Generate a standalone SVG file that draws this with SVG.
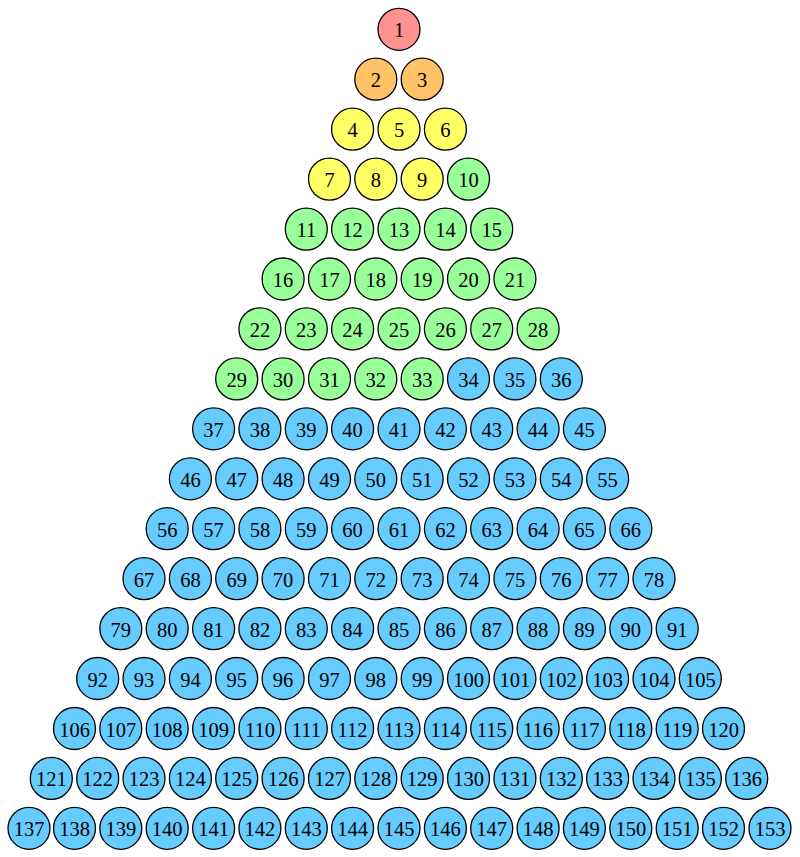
<svg xmlns="http://www.w3.org/2000/svg" width="800" height="857" viewBox="0 0 800 857">
<style>
circle{stroke:#000;stroke-width:1.3}
text{font-family:"Liberation Serif","Times New Roman",serif;font-size:20.5px;text-anchor:middle;fill:#000}
.r circle{fill:#ff9191}
.o circle{fill:#ffc266}
.y circle{fill:#ffff66}
.g circle{fill:#99ff99}
.b circle{fill:#66ccff}
</style>
<rect width="800" height="857" fill="#fff"/>
<g id="connectors"/>
<g id="nodes">
<g id="n1" class="r"><circle cx="399" cy="29.3" r="21"/><text x="399" y="37.3">1</text></g>
<g id="n2" class="o"><circle cx="375.8" cy="79.2" r="21"/><text x="375.8" y="87.2">2</text></g>
<g id="n3" class="o"><circle cx="422.2" cy="79.2" r="21"/><text x="422.2" y="87.2">3</text></g>
<g id="n4" class="y"><circle cx="352.6" cy="129.2" r="21"/><text x="352.6" y="137.2">4</text></g>
<g id="n5" class="y"><circle cx="399" cy="129.2" r="21"/><text x="399" y="137.2">5</text></g>
<g id="n6" class="y"><circle cx="445.4" cy="129.2" r="21"/><text x="445.4" y="137.2">6</text></g>
<g id="n7" class="y"><circle cx="329.5" cy="179.1" r="21"/><text x="329.5" y="187.1">7</text></g>
<g id="n8" class="y"><circle cx="375.8" cy="179.1" r="21"/><text x="375.8" y="187.1">8</text></g>
<g id="n9" class="y"><circle cx="422.2" cy="179.1" r="21"/><text x="422.2" y="187.1">9</text></g>
<g id="n10" class="g"><circle cx="468.5" cy="179.1" r="21"/><text x="468.5" y="187.1">10</text></g>
<g id="n11" class="g"><circle cx="306.3" cy="229.1" r="21"/><text x="306.3" y="237.1">11</text></g>
<g id="n12" class="g"><circle cx="352.6" cy="229.1" r="21"/><text x="352.6" y="237.1">12</text></g>
<g id="n13" class="g"><circle cx="399" cy="229.1" r="21"/><text x="399" y="237.1">13</text></g>
<g id="n14" class="g"><circle cx="445.4" cy="229.1" r="21"/><text x="445.4" y="237.1">14</text></g>
<g id="n15" class="g"><circle cx="491.7" cy="229.1" r="21"/><text x="491.7" y="237.1">15</text></g>
<g id="n16" class="g"><circle cx="283.1" cy="279" r="21"/><text x="283.1" y="287">16</text></g>
<g id="n17" class="g"><circle cx="329.5" cy="279" r="21"/><text x="329.5" y="287">17</text></g>
<g id="n18" class="g"><circle cx="375.8" cy="279" r="21"/><text x="375.8" y="287">18</text></g>
<g id="n19" class="g"><circle cx="422.2" cy="279" r="21"/><text x="422.2" y="287">19</text></g>
<g id="n20" class="g"><circle cx="468.5" cy="279" r="21"/><text x="468.5" y="287">20</text></g>
<g id="n21" class="g"><circle cx="514.9" cy="279" r="21"/><text x="514.9" y="287">21</text></g>
<g id="n22" class="g"><circle cx="259.9" cy="328.9" r="21"/><text x="259.9" y="336.9">22</text></g>
<g id="n23" class="g"><circle cx="306.3" cy="328.9" r="21"/><text x="306.3" y="336.9">23</text></g>
<g id="n24" class="g"><circle cx="352.6" cy="328.9" r="21"/><text x="352.6" y="336.9">24</text></g>
<g id="n25" class="g"><circle cx="399" cy="328.9" r="21"/><text x="399" y="336.9">25</text></g>
<g id="n26" class="g"><circle cx="445.4" cy="328.9" r="21"/><text x="445.4" y="336.9">26</text></g>
<g id="n27" class="g"><circle cx="491.7" cy="328.9" r="21"/><text x="491.7" y="336.9">27</text></g>
<g id="n28" class="g"><circle cx="538.1" cy="328.9" r="21"/><text x="538.1" y="336.9">28</text></g>
<g id="n29" class="g"><circle cx="236.7" cy="378.9" r="21"/><text x="236.7" y="386.9">29</text></g>
<g id="n30" class="g"><circle cx="283.1" cy="378.9" r="21"/><text x="283.1" y="386.9">30</text></g>
<g id="n31" class="g"><circle cx="329.5" cy="378.9" r="21"/><text x="329.5" y="386.9">31</text></g>
<g id="n32" class="g"><circle cx="375.8" cy="378.9" r="21"/><text x="375.8" y="386.9">32</text></g>
<g id="n33" class="g"><circle cx="422.2" cy="378.9" r="21"/><text x="422.2" y="386.9">33</text></g>
<g id="n34" class="b"><circle cx="468.5" cy="378.9" r="21"/><text x="468.5" y="386.9">34</text></g>
<g id="n35" class="b"><circle cx="514.9" cy="378.9" r="21"/><text x="514.9" y="386.9">35</text></g>
<g id="n36" class="b"><circle cx="561.3" cy="378.9" r="21"/><text x="561.3" y="386.9">36</text></g>
<g id="n37" class="b"><circle cx="213.6" cy="428.8" r="21"/><text x="213.6" y="436.8">37</text></g>
<g id="n38" class="b"><circle cx="259.9" cy="428.8" r="21"/><text x="259.9" y="436.8">38</text></g>
<g id="n39" class="b"><circle cx="306.3" cy="428.8" r="21"/><text x="306.3" y="436.8">39</text></g>
<g id="n40" class="b"><circle cx="352.6" cy="428.8" r="21"/><text x="352.6" y="436.8">40</text></g>
<g id="n41" class="b"><circle cx="399" cy="428.8" r="21"/><text x="399" y="436.8">41</text></g>
<g id="n42" class="b"><circle cx="445.4" cy="428.8" r="21"/><text x="445.4" y="436.8">42</text></g>
<g id="n43" class="b"><circle cx="491.7" cy="428.8" r="21"/><text x="491.7" y="436.8">43</text></g>
<g id="n44" class="b"><circle cx="538.1" cy="428.8" r="21"/><text x="538.1" y="436.8">44</text></g>
<g id="n45" class="b"><circle cx="584.4" cy="428.8" r="21"/><text x="584.4" y="436.8">45</text></g>
<g id="n46" class="b"><circle cx="190.4" cy="478.8" r="21"/><text x="190.4" y="486.8">46</text></g>
<g id="n47" class="b"><circle cx="236.7" cy="478.8" r="21"/><text x="236.7" y="486.8">47</text></g>
<g id="n48" class="b"><circle cx="283.1" cy="478.8" r="21"/><text x="283.1" y="486.8">48</text></g>
<g id="n49" class="b"><circle cx="329.5" cy="478.8" r="21"/><text x="329.5" y="486.8">49</text></g>
<g id="n50" class="b"><circle cx="375.8" cy="478.8" r="21"/><text x="375.8" y="486.8">50</text></g>
<g id="n51" class="b"><circle cx="422.2" cy="478.8" r="21"/><text x="422.2" y="486.8">51</text></g>
<g id="n52" class="b"><circle cx="468.5" cy="478.8" r="21"/><text x="468.5" y="486.8">52</text></g>
<g id="n53" class="b"><circle cx="514.9" cy="478.8" r="21"/><text x="514.9" y="486.8">53</text></g>
<g id="n54" class="b"><circle cx="561.3" cy="478.8" r="21"/><text x="561.3" y="486.8">54</text></g>
<g id="n55" class="b"><circle cx="607.6" cy="478.8" r="21"/><text x="607.6" y="486.8">55</text></g>
<g id="n56" class="b"><circle cx="167.2" cy="528.7" r="21"/><text x="167.2" y="536.7">56</text></g>
<g id="n57" class="b"><circle cx="213.6" cy="528.7" r="21"/><text x="213.6" y="536.7">57</text></g>
<g id="n58" class="b"><circle cx="259.9" cy="528.7" r="21"/><text x="259.9" y="536.7">58</text></g>
<g id="n59" class="b"><circle cx="306.3" cy="528.7" r="21"/><text x="306.3" y="536.7">59</text></g>
<g id="n60" class="b"><circle cx="352.6" cy="528.7" r="21"/><text x="352.6" y="536.7">60</text></g>
<g id="n61" class="b"><circle cx="399" cy="528.7" r="21"/><text x="399" y="536.7">61</text></g>
<g id="n62" class="b"><circle cx="445.4" cy="528.7" r="21"/><text x="445.4" y="536.7">62</text></g>
<g id="n63" class="b"><circle cx="491.7" cy="528.7" r="21"/><text x="491.7" y="536.7">63</text></g>
<g id="n64" class="b"><circle cx="538.1" cy="528.7" r="21"/><text x="538.1" y="536.7">64</text></g>
<g id="n65" class="b"><circle cx="584.4" cy="528.7" r="21"/><text x="584.4" y="536.7">65</text></g>
<g id="n66" class="b"><circle cx="630.8" cy="528.7" r="21"/><text x="630.8" y="536.7">66</text></g>
<g id="n67" class="b"><circle cx="144" cy="578.6" r="21"/><text x="144" y="586.6">67</text></g>
<g id="n68" class="b"><circle cx="190.4" cy="578.6" r="21"/><text x="190.4" y="586.6">68</text></g>
<g id="n69" class="b"><circle cx="236.7" cy="578.6" r="21"/><text x="236.7" y="586.6">69</text></g>
<g id="n70" class="b"><circle cx="283.1" cy="578.6" r="21"/><text x="283.1" y="586.6">70</text></g>
<g id="n71" class="b"><circle cx="329.5" cy="578.6" r="21"/><text x="329.5" y="586.6">71</text></g>
<g id="n72" class="b"><circle cx="375.8" cy="578.6" r="21"/><text x="375.8" y="586.6">72</text></g>
<g id="n73" class="b"><circle cx="422.2" cy="578.6" r="21"/><text x="422.2" y="586.6">73</text></g>
<g id="n74" class="b"><circle cx="468.5" cy="578.6" r="21"/><text x="468.5" y="586.6">74</text></g>
<g id="n75" class="b"><circle cx="514.9" cy="578.6" r="21"/><text x="514.9" y="586.6">75</text></g>
<g id="n76" class="b"><circle cx="561.3" cy="578.6" r="21"/><text x="561.3" y="586.6">76</text></g>
<g id="n77" class="b"><circle cx="607.6" cy="578.6" r="21"/><text x="607.6" y="586.6">77</text></g>
<g id="n78" class="b"><circle cx="654" cy="578.6" r="21"/><text x="654" y="586.6">78</text></g>
<g id="n79" class="b"><circle cx="120.8" cy="628.6" r="21"/><text x="120.8" y="636.6">79</text></g>
<g id="n80" class="b"><circle cx="167.2" cy="628.6" r="21"/><text x="167.2" y="636.6">80</text></g>
<g id="n81" class="b"><circle cx="213.6" cy="628.6" r="21"/><text x="213.6" y="636.6">81</text></g>
<g id="n82" class="b"><circle cx="259.9" cy="628.6" r="21"/><text x="259.9" y="636.6">82</text></g>
<g id="n83" class="b"><circle cx="306.3" cy="628.6" r="21"/><text x="306.3" y="636.6">83</text></g>
<g id="n84" class="b"><circle cx="352.6" cy="628.6" r="21"/><text x="352.6" y="636.6">84</text></g>
<g id="n85" class="b"><circle cx="399" cy="628.6" r="21"/><text x="399" y="636.6">85</text></g>
<g id="n86" class="b"><circle cx="445.4" cy="628.6" r="21"/><text x="445.4" y="636.6">86</text></g>
<g id="n87" class="b"><circle cx="491.7" cy="628.6" r="21"/><text x="491.7" y="636.6">87</text></g>
<g id="n88" class="b"><circle cx="538.1" cy="628.6" r="21"/><text x="538.1" y="636.6">88</text></g>
<g id="n89" class="b"><circle cx="584.4" cy="628.6" r="21"/><text x="584.4" y="636.6">89</text></g>
<g id="n90" class="b"><circle cx="630.8" cy="628.6" r="21"/><text x="630.8" y="636.6">90</text></g>
<g id="n91" class="b"><circle cx="677.2" cy="628.6" r="21"/><text x="677.2" y="636.6">91</text></g>
<g id="n92" class="b"><circle cx="97.7" cy="678.5" r="21"/><text x="97.7" y="686.5">92</text></g>
<g id="n93" class="b"><circle cx="144" cy="678.5" r="21"/><text x="144" y="686.5">93</text></g>
<g id="n94" class="b"><circle cx="190.4" cy="678.5" r="21"/><text x="190.4" y="686.5">94</text></g>
<g id="n95" class="b"><circle cx="236.7" cy="678.5" r="21"/><text x="236.7" y="686.5">95</text></g>
<g id="n96" class="b"><circle cx="283.1" cy="678.5" r="21"/><text x="283.1" y="686.5">96</text></g>
<g id="n97" class="b"><circle cx="329.5" cy="678.5" r="21"/><text x="329.5" y="686.5">97</text></g>
<g id="n98" class="b"><circle cx="375.8" cy="678.5" r="21"/><text x="375.8" y="686.5">98</text></g>
<g id="n99" class="b"><circle cx="422.2" cy="678.5" r="21"/><text x="422.2" y="686.5">99</text></g>
<g id="n100" class="b"><circle cx="468.5" cy="678.5" r="21"/><text x="468.5" y="686.5">100</text></g>
<g id="n101" class="b"><circle cx="514.9" cy="678.5" r="21"/><text x="514.9" y="686.5">101</text></g>
<g id="n102" class="b"><circle cx="561.3" cy="678.5" r="21"/><text x="561.3" y="686.5">102</text></g>
<g id="n103" class="b"><circle cx="607.6" cy="678.5" r="21"/><text x="607.6" y="686.5">103</text></g>
<g id="n104" class="b"><circle cx="654" cy="678.5" r="21"/><text x="654" y="686.5">104</text></g>
<g id="n105" class="b"><circle cx="700.3" cy="678.5" r="21"/><text x="700.3" y="686.5">105</text></g>
<g id="n106" class="b"><circle cx="74.5" cy="728.5" r="21"/><text x="74.5" y="736.5">106</text></g>
<g id="n107" class="b"><circle cx="120.8" cy="728.5" r="21"/><text x="120.8" y="736.5">107</text></g>
<g id="n108" class="b"><circle cx="167.2" cy="728.5" r="21"/><text x="167.2" y="736.5">108</text></g>
<g id="n109" class="b"><circle cx="213.6" cy="728.5" r="21"/><text x="213.6" y="736.5">109</text></g>
<g id="n110" class="b"><circle cx="259.9" cy="728.5" r="21"/><text x="259.9" y="736.5">110</text></g>
<g id="n111" class="b"><circle cx="306.3" cy="728.5" r="21"/><text x="306.3" y="736.5">111</text></g>
<g id="n112" class="b"><circle cx="352.6" cy="728.5" r="21"/><text x="352.6" y="736.5">112</text></g>
<g id="n113" class="b"><circle cx="399" cy="728.5" r="21"/><text x="399" y="736.5">113</text></g>
<g id="n114" class="b"><circle cx="445.4" cy="728.5" r="21"/><text x="445.4" y="736.5">114</text></g>
<g id="n115" class="b"><circle cx="491.7" cy="728.5" r="21"/><text x="491.7" y="736.5">115</text></g>
<g id="n116" class="b"><circle cx="538.1" cy="728.5" r="21"/><text x="538.1" y="736.5">116</text></g>
<g id="n117" class="b"><circle cx="584.4" cy="728.5" r="21"/><text x="584.4" y="736.5">117</text></g>
<g id="n118" class="b"><circle cx="630.8" cy="728.5" r="21"/><text x="630.8" y="736.5">118</text></g>
<g id="n119" class="b"><circle cx="677.2" cy="728.5" r="21"/><text x="677.2" y="736.5">119</text></g>
<g id="n120" class="b"><circle cx="723.5" cy="728.5" r="21"/><text x="723.5" y="736.5">120</text></g>
<g id="n121" class="b"><circle cx="51.3" cy="778.4" r="21"/><text x="51.3" y="786.4">121</text></g>
<g id="n122" class="b"><circle cx="97.7" cy="778.4" r="21"/><text x="97.7" y="786.4">122</text></g>
<g id="n123" class="b"><circle cx="144" cy="778.4" r="21"/><text x="144" y="786.4">123</text></g>
<g id="n124" class="b"><circle cx="190.4" cy="778.4" r="21"/><text x="190.4" y="786.4">124</text></g>
<g id="n125" class="b"><circle cx="236.7" cy="778.4" r="21"/><text x="236.7" y="786.4">125</text></g>
<g id="n126" class="b"><circle cx="283.1" cy="778.4" r="21"/><text x="283.1" y="786.4">126</text></g>
<g id="n127" class="b"><circle cx="329.5" cy="778.4" r="21"/><text x="329.5" y="786.4">127</text></g>
<g id="n128" class="b"><circle cx="375.8" cy="778.4" r="21"/><text x="375.8" y="786.4">128</text></g>
<g id="n129" class="b"><circle cx="422.2" cy="778.4" r="21"/><text x="422.2" y="786.4">129</text></g>
<g id="n130" class="b"><circle cx="468.5" cy="778.4" r="21"/><text x="468.5" y="786.4">130</text></g>
<g id="n131" class="b"><circle cx="514.9" cy="778.4" r="21"/><text x="514.9" y="786.4">131</text></g>
<g id="n132" class="b"><circle cx="561.3" cy="778.4" r="21"/><text x="561.3" y="786.4">132</text></g>
<g id="n133" class="b"><circle cx="607.6" cy="778.4" r="21"/><text x="607.6" y="786.4">133</text></g>
<g id="n134" class="b"><circle cx="654" cy="778.4" r="21"/><text x="654" y="786.4">134</text></g>
<g id="n135" class="b"><circle cx="700.3" cy="778.4" r="21"/><text x="700.3" y="786.4">135</text></g>
<g id="n136" class="b"><circle cx="746.7" cy="778.4" r="21"/><text x="746.7" y="786.4">136</text></g>
<g id="n137" class="b"><circle cx="29" cy="828.3" r="21"/><text x="29" y="836.3">137</text></g>
<g id="n138" class="b"><circle cx="74.5" cy="828.3" r="21"/><text x="74.5" y="836.3">138</text></g>
<g id="n139" class="b"><circle cx="120.8" cy="828.3" r="21"/><text x="120.8" y="836.3">139</text></g>
<g id="n140" class="b"><circle cx="167.2" cy="828.3" r="21"/><text x="167.2" y="836.3">140</text></g>
<g id="n141" class="b"><circle cx="213.6" cy="828.3" r="21"/><text x="213.6" y="836.3">141</text></g>
<g id="n142" class="b"><circle cx="259.9" cy="828.3" r="21"/><text x="259.9" y="836.3">142</text></g>
<g id="n143" class="b"><circle cx="306.3" cy="828.3" r="21"/><text x="306.3" y="836.3">143</text></g>
<g id="n144" class="b"><circle cx="352.6" cy="828.3" r="21"/><text x="352.6" y="836.3">144</text></g>
<g id="n145" class="b"><circle cx="399" cy="828.3" r="21"/><text x="399" y="836.3">145</text></g>
<g id="n146" class="b"><circle cx="445.4" cy="828.3" r="21"/><text x="445.4" y="836.3">146</text></g>
<g id="n147" class="b"><circle cx="491.7" cy="828.3" r="21"/><text x="491.7" y="836.3">147</text></g>
<g id="n148" class="b"><circle cx="538.1" cy="828.3" r="21"/><text x="538.1" y="836.3">148</text></g>
<g id="n149" class="b"><circle cx="584.4" cy="828.3" r="21"/><text x="584.4" y="836.3">149</text></g>
<g id="n150" class="b"><circle cx="630.8" cy="828.3" r="21"/><text x="630.8" y="836.3">150</text></g>
<g id="n151" class="b"><circle cx="677.2" cy="828.3" r="21"/><text x="677.2" y="836.3">151</text></g>
<g id="n152" class="b"><circle cx="723.5" cy="828.3" r="21"/><text x="723.5" y="836.3">152</text></g>
<g id="n153" class="b"><circle cx="770" cy="828.3" r="21"/><text x="770" y="836.3">153</text></g>
</g>
</svg>
